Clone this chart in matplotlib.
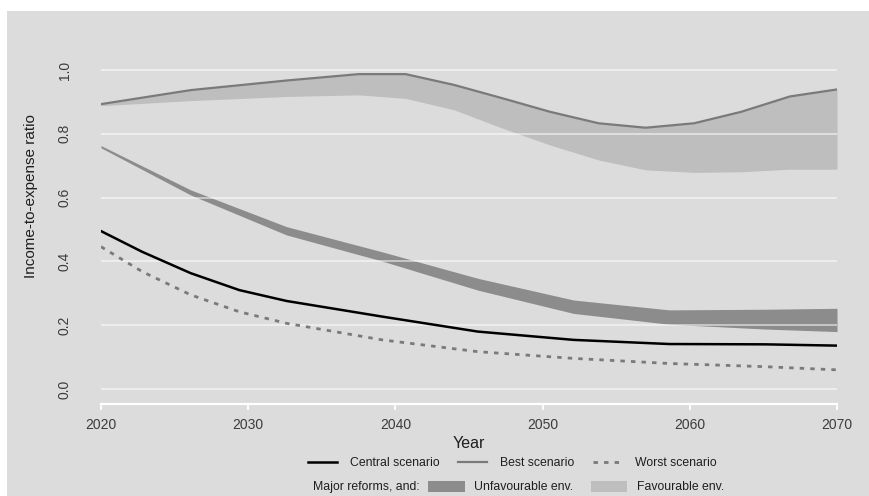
import matplotlib
matplotlib.use("Agg")
import matplotlib.pyplot as plt
import matplotlib.patches as mpatches
from matplotlib.lines import Line2D

plt.rcParams['font.family'] = ['Liberation Sans', 'DejaVu Sans']

# central / worst scenarios
line_years = [2020, 2022.8, 2026.1, 2029.4, 2032.6, 2039.1, 2045.6, 2052.1, 2058.6, 2065.1, 2070]
central = [0.495, 0.430, 0.363, 0.310, 0.276, 0.227, 0.180, 0.154, 0.141, 0.140, 0.136]
worst = [0.446, 0.368, 0.295, 0.242, 0.206, 0.154, 0.117, 0.096, 0.080, 0.070, 0.060]

# major reforms + unfavourable environment
unfav_years = [2020, 2026.1, 2032.6, 2039.1, 2045.6, 2052.1, 2058.6, 2065.1, 2070]
unfav_hi = [0.763, 0.624, 0.509, 0.430, 0.347, 0.279, 0.248, 0.250, 0.253]
unfav_lo = [0.756, 0.608, 0.483, 0.401, 0.310, 0.237, 0.203, 0.188, 0.180]

# major reforms + favourable environment (upper edge = best scenario)
fav_years = [2020, 2026.1, 2032.6, 2037.5, 2040.7, 2044, 2047.3, 2050.5, 2053.8,
             2057, 2060.3, 2063.5, 2066.8, 2070]
fav_hi = [0.893, 0.937, 0.967, 0.987, 0.987, 0.953, 0.911, 0.869, 0.833,
          0.819, 0.833, 0.869, 0.917, 0.939]
fav_lo = [0.888, 0.904, 0.917, 0.922, 0.911, 0.875, 0.817, 0.765, 0.718,
          0.687, 0.679, 0.681, 0.689, 0.689]

xticks = [2020, 2030, 2040, 2050, 2060, 2070]
yticks = [0.0, 0.2, 0.4, 0.6, 0.8, 1.0]

bg = '#dcdcdc'
dark = '#8c8c8c'
light = '#bebebe'
line_gray = '#7a7a7a'
txt = '#1e1e1e'

W, H = 869, 496
fig = plt.figure(figsize=(W / 100, H / 100), dpi=100)
fig.patch.set_facecolor('white')
fig.patches.append(mpatches.Rectangle((7 / W, 0), 1, (H - 11) / H, transform=fig.transFigure,
                                      facecolor=bg, edgecolor='none', zorder=-10))

ax = fig.add_axes([101 / W, (H - 404) / H, (837 - 101) / W, (404 - 40) / H])
ax.patch.set_alpha(0)

ax.fill_between(fav_years, fav_lo, fav_hi, color=light, lw=0, zorder=2)
ax.fill_between(unfav_years, unfav_lo, unfav_hi, color=dark, lw=0, zorder=2)
ax.plot(fav_years, fav_hi, color=line_gray, lw=1.6, zorder=3, solid_joinstyle='round')
ax.plot(line_years, central, color='black', lw=1.8, zorder=4, solid_joinstyle='round')
ax.plot(line_years, worst, color=line_gray, lw=2.0, dashes=(1.6, 2.2), zorder=4)

for yv in yticks:
    ax.axhline(yv, color='white', lw=1.3, alpha=0.55, zorder=2.5)

ax.set_xlim(2020, 2070)
ax.set_ylim(-0.047, 1.094)
ax.set_xticks(xticks)
ax.set_yticks(yticks)
ax.set_yticklabels(['%.1f' % v for v in yticks], rotation=90, va='center')

for s in ['top', 'right', 'left']:
    ax.spines[s].set_visible(False)
ax.spines['bottom'].set_color('white')
ax.spines['bottom'].set_linewidth(1.6)
ax.tick_params(axis='x', colors='white', length=4, width=1.3, labelcolor='#3c3c3c',
               labelsize=10, pad=6)
ax.tick_params(axis='y', length=0, labelcolor='#3c3c3c', labelsize=10, pad=21)

ax.set_xlabel('Year', fontsize=11.5, color=txt, labelpad=3)
ax.set_ylabel('Income-to-expense ratio', fontsize=11, color=txt)
ax.yaxis.set_label_coords(-0.085, 0.571)

h1 = [Line2D([], [], color='black', lw=1.8),
      Line2D([], [], color=line_gray, lw=1.6),
      Line2D([], [], color=line_gray, lw=2.0, dashes=(1.6, 2.2))]
fig.legend(h1, ['Central scenario', 'Best scenario', 'Worst scenario'],
           loc='center', bbox_to_anchor=(512 / W, 1 - 463 / H), ncol=3, frameon=False,
           fontsize=8.8, handlelength=2.4, handletextpad=1.05, columnspacing=1.5,
           labelcolor=txt)

fig.text(420 / W, 1 - 487 / H, 'Major reforms, and:', ha='right', va='center',
         fontsize=8.8, color=txt)
h2 = [mpatches.Patch(facecolor=dark, edgecolor='none'),
      mpatches.Patch(facecolor=light, edgecolor='none')]
fig.legend(h2, ['Unfavourable env.', 'Favourable env.'],
           loc='center', bbox_to_anchor=(576 / W, 1 - 487 / H), ncol=2, frameon=False,
           fontsize=8.8, handlelength=3.0, handleheight=1.0, handletextpad=0.75,
           columnspacing=1.45, labelcolor=txt)

fig.savefig('out.png', dpi=100, facecolor='white')
